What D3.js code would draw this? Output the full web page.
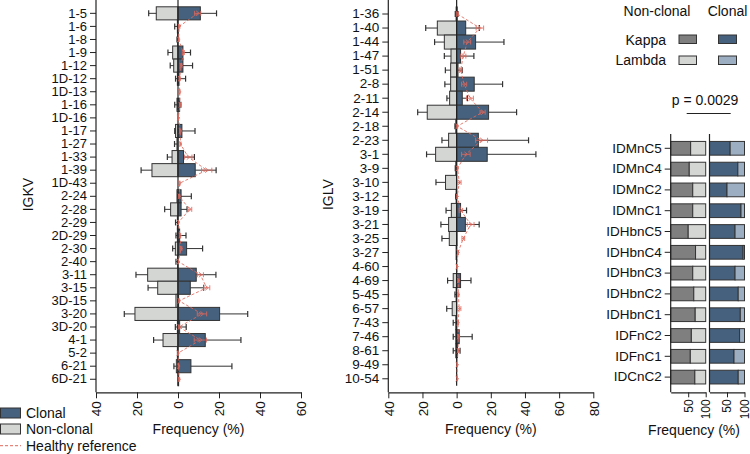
<!DOCTYPE html>
<html><head><meta charset="utf-8">
<script src="https://cdn.jsdelivr.net/npm/d3@7"></script>
<style>
body{margin:0;background:#fff;}
svg{font-family:Arial,"Liberation Sans",sans-serif;}
</style></head>
<body><svg id="c" width="750" height="454"></svg>
<script>
// ---------- IGKV ----------
const kGenes = ["1-5","1-6","1-8","1-9","1-12","1D-12","1D-13","1-16","1D-16","1-17","1-27","1-33","1-39","1D-43","2-24","2-28","2-29","2D-29","2-30","2-40","3-11","3-15","3D-15","3-20","3D-20","4-1","5-2","6-21","6D-21"];
const kClonal    = [10.9,0,0,2.4,2.4,0.5,0,0.8,0,1.9,0,2.7,8.4,0,1.5,1.5,0,0.8,4.2,0,8.9,6.0,0.3,20.3,0.8,13.3,0,6.3,0.3];
const kClonalErr = [7.9,0,0,3.7,4.7,3.2,0,0.6,0,6.4,0,5.3,10.2,0,5.0,2.9,0,3.1,7.8,0,9.6,6.5,0,13.7,3.2,17.4,0,20,0];
const kNon       = [10.6,0.3,0.2,2.6,2.1,0.3,0,0.5,0,1.2,0.5,2.9,12.7,0,0.5,3.6,0.3,0.3,1.3,0.2,14.8,9.9,1.0,21.0,0.3,7.3,0.3,0.8,0];
const kNonErr    = [3.7,1.3,0.3,2.3,1.7,0.9,0,1.1,0,0.4,1.2,2.3,5.3,0,0,2.9,0.9,0.7,1.3,0.8,5.7,4.7,0,5.2,1.0,4.6,0,1.2,0];
const kHealthy   = [9.6,0.6,0.3,2.6,1.5,0.8,0.8,1.0,0.2,1.1,1.2,5.0,14.0,0.8,0.6,5.7,0.2,1.0,1.5,0.2,10.9,14.0,0.5,11.7,0.5,10.9,0,0.3,0.5];
const kHealthyErr= [1.5,0.3,0.2,0.5,0.4,0.3,0.2,0.3,0,0.3,0.3,1.8,2.5,0.2,0.3,1.0,0,0.3,0.4,0,1.5,1.5,0.2,2.3,0.3,3.0,0,0.2,0.3];
const kTicks = [-40,-20,0,20,40,60];

// ---------- IGLV ----------
const lGenes = ["1-36","1-40","1-44","1-47","1-51","2-8","2-11","2-14","2-18","2-23","3-1","3-9","3-10","3-12","3-19","3-21","3-25","3-27","4-60","4-69","5-45","6-57","7-43","7-46","8-61","9-49","10-54"];
const lClonal    = [0.3,5.3,11.1,2.3,0.8,10.3,3.3,18.7,0,12.7,17.9,0,0,0,2.3,5.1,0.2,0,0,2.3,0,0,0,1.5,0.5,0,0];
const lClonalErr = [0.5,8,16.6,7.8,2.5,16.6,3,16.4,0,29.4,28.5,0,0,0,3.5,8.1,0,0,0,6.1,0,0,0,7.6,1.5,0,0];
const lNon       = [0.3,11.3,7.2,3.3,3.5,3.5,4.1,17.2,0.5,4.7,12.3,0.5,6.5,0.3,3.1,4.7,4.3,0.3,0,2.0,0.3,2.6,0.5,0.5,0.5,0,0];
const lNonErr    = [0.5,6.8,5.7,3.9,3.1,3.4,1.6,5.6,0.5,3.9,5.3,0.3,5.6,0.3,3.1,4.5,4.3,0,0,3.3,0.7,3.2,1.5,1.5,1.5,0,0];
const lHealthy   = [0.5,13.6,6.2,3.9,2.3,4.4,7.8,15.2,0.3,14.6,5.4,0.5,1.6,0.3,2.5,8.2,3.9,0.8,0.2,1.0,1.0,1.5,0.8,1.0,0.8,0.3,0.3];
const lHealthyErr= [0.5,2.2,2,1.5,0.8,1.5,2,1.5,0.3,3.5,2.5,0.2,1,0.2,1,2,0.8,0.3,0,0.3,0.3,1,0.3,0.3,0.3,0,0];
const lTicks = [-40,-20,0,20,40,60,80];

// ---------- Kappa / Lambda ----------
const samples = ["IDMnC5","IDMnC4","IDMnC2","IDMnC1","IDHbnC5","IDHbnC4","IDHbnC3","IDHbnC2","IDHbnC1","IDFnC2","IDFnC1","IDCnC2"];
const nonKappa = [57,53,63,63,50,71,63,66,70,59,56,69];
const clonKappa = [59,81,50,90,73,96,73,82,88,86,70,82];
const pctTicks = [50,100];

const C_CLON = "#45617e", C_CLON_L = "#9caec2", C_NON = "#d4d6d4", C_NON_D = "#7f7f7f";
const C_RED = "#e0685c", C_LINE = "#222";
const svg = d3.select("#c");

function vPanel(opts){
  const {genes, clonal, clonalErr, non, nonErr, healthy, healthyErr, ticks, xr, yr, title, titleX, fs} = opts;
  const x = d3.scaleLinear().domain([ticks[0], ticks[ticks.length-1]]).range(xr);
  const y = d3.scaleBand().domain(genes).range(yr).padding(0);
  const g = svg.append("g");
  const bh = y.bandwidth();
  const cy = d => y(d)+bh/2;
  g.selectAll(".nb").data(genes).join("rect")
    .attr("x",(d,i)=>x(-non[i])).attr("y",d=>y(d)).attr("width",(d,i)=>x(0)-x(-non[i])).attr("height",bh)
    .attr("fill",C_NON).attr("stroke","#333").attr("stroke-width",1);
  g.selectAll(".cb").data(genes).join("rect")
    .attr("x",x(0)).attr("y",d=>y(d)).attr("width",(d,i)=>x(clonal[i])-x(0)).attr("height",bh)
    .attr("fill",C_CLON).attr("stroke","#333").attr("stroke-width",1);
  const errs = [];
  genes.forEach((d,i)=>{
    if(nonErr[i]>0) errs.push({y:cy(d),a:x(-non[i]),b:x(-non[i]-nonErr[i])});
    if(clonalErr[i]>0) errs.push({y:cy(d),a:x(clonal[i]),b:x(clonal[i]+clonalErr[i])});
  });
  g.selectAll(".el").data(errs).join("line").attr("x1",d=>d.a).attr("x2",d=>d.b).attr("y1",d=>d.y).attr("y2",d=>d.y).attr("stroke","#333").attr("stroke-width",1);
  g.selectAll(".ec").data(errs).join("line").attr("x1",d=>d.b).attr("x2",d=>d.b).attr("y1",d=>d.y-3).attr("y2",d=>d.y+3).attr("stroke","#333").attr("stroke-width",1.2);
  g.append("line").attr("x1",x(0)).attr("x2",x(0)).attr("y1",0).attr("y2",yr[1]).attr("stroke",C_LINE).attr("stroke-width",1.2);
  const line = d3.line().x((d,i)=>x(healthy[i])).y(d=>cy(d));
  g.append("path").datum(genes).attr("d",line).attr("fill","none").attr("stroke",C_RED).attr("stroke-width",1).attr("stroke-dasharray","3,2").attr("opacity",0.85);
  const hg = g.selectAll(".hm").data(genes).join("g").attr("opacity",0.85);
  hg.append("line").attr("x1",(d,i)=>x(healthy[i]-healthyErr[i])).attr("x2",(d,i)=>x(healthy[i]+healthyErr[i])).attr("y1",cy).attr("y2",cy).attr("stroke",C_RED).attr("stroke-width",1);
  hg.append("line").attr("x1",(d,i)=>x(healthy[i]-healthyErr[i])).attr("x2",(d,i)=>x(healthy[i]-healthyErr[i])).attr("y1",d=>cy(d)-2.5).attr("y2",d=>cy(d)+2.5).attr("stroke",C_RED).attr("stroke-width",1);
  hg.append("line").attr("x1",(d,i)=>x(healthy[i]+healthyErr[i])).attr("x2",(d,i)=>x(healthy[i]+healthyErr[i])).attr("y1",d=>cy(d)-2.5).attr("y2",d=>cy(d)+2.5).attr("stroke",C_RED).attr("stroke-width",1);
  hg.append("path").attr("d",(d,i)=>`M${x(healthy[i])-1.5},${cy(d)-2.5}L${x(healthy[i])+1.5},${cy(d)}L${x(healthy[i])-1.5},${cy(d)+2.5}`).attr("fill","none").attr("stroke",C_RED).attr("stroke-width",1);
  const axY = 392.3;
  const ya = g.append("g").attr("transform",`translate(${xr[0]},0)`).call(d3.axisLeft(y).tickSize(6).tickSizeOuter(0));
  ya.select(".domain").remove();
  g.append("line").attr("x1",xr[0]).attr("x2",xr[0]).attr("y1",0).attr("y2",axY).attr("stroke",C_LINE).attr("stroke-width",1.2);
  ya.selectAll("text").attr("font-size",fs).attr("fill","#111").attr("font-family","Arial, Liberation Sans");
  ya.selectAll("line").attr("stroke",C_LINE);
  const xa = g.append("g").attr("transform",`translate(0,${axY})`).call(d3.axisBottom(x).tickValues(ticks).tickFormat(d=>Math.abs(d)).tickSize(6).tickSizeOuter(0));
  xa.select(".domain").attr("stroke",C_LINE).attr("stroke-width",1.2);
  xa.selectAll("line").attr("stroke",C_LINE);
  xa.selectAll("text").attr("font-size",13.5).attr("fill","#111").attr("font-family","Arial, Liberation Sans")
    .attr("transform","rotate(-90)").attr("text-anchor","end").attr("dy","0.35em").attr("x",-9).attr("y",0);
  g.append("text").attr("x",(xr[0]+xr[1])/2).attr("y",434).attr("text-anchor","middle").attr("font-size",14).attr("fill","#111").text("Frequency (%)");
  g.append("text").attr("transform",`translate(${titleX},${(yr[0]+axY)/2-5}) rotate(-90)`).attr("text-anchor","middle").attr("font-size",14).attr("fill","#111").text(title);
}

vPanel({genes:kGenes, clonal:kClonal, clonalErr:kClonalErr, non:kNon, nonErr:kNonErr, healthy:kHealthy, healthyErr:kHealthyErr, ticks:kTicks, xr:[96,301], yr:[6.8,385.8], title:"IGKV", titleX:33, fs:13});
vPanel({genes:lGenes, clonal:lClonal, clonalErr:lClonalErr, non:lNon, nonErr:lNonErr, healthy:lHealthy, healthyErr:lHealthyErr, ticks:lTicks, xr:[388.3,593.3], yr:[7,385.8], title:"IGLV", titleX:333, fs:13.5});

// ---------- bottom-left legend ----------
const lg = svg.append("g");
lg.append("rect").attr("x",0.5).attr("y",408).attr("width",20).attr("height",10).attr("fill",C_CLON).attr("stroke","#333");
lg.append("text").attr("x",26).attr("y",418).attr("font-size",14).attr("fill","#111").text("Clonal");
lg.append("rect").attr("x",0.5).attr("y",424).attr("width",20).attr("height",10).attr("fill",C_NON).attr("stroke","#333");
lg.append("text").attr("x",26).attr("y",434).attr("font-size",14).attr("fill","#111").text("Non-clonal");
lg.append("line").attr("x1",0).attr("x2",21).attr("y1",445.7).attr("y2",445.7).attr("stroke",C_RED).attr("stroke-dasharray","3,2");
lg.append("text").attr("x",26).attr("y",450.5).attr("font-size",14).attr("fill","#111").text("Healthy reference");

// ---------- right: kappa/lambda ----------
const yS = d3.scaleBand().domain(samples).range([137.9,387.5]).paddingInner(0.34).paddingOuter(0.17);
const axB = 392.3;
function klPanel(x0, kap, cDark, cLight, showY){
  const x = d3.scaleLinear().domain([0,100]).range([x0, x0+35]);
  const g = svg.append("g");
  g.selectAll(".k").data(samples).join("rect").attr("x",x(0)).attr("y",d=>yS(d)).attr("width",(d,i)=>x(kap[i])-x(0)).attr("height",yS.bandwidth()).attr("fill",cDark).attr("stroke","#333").attr("stroke-width",1);
  g.selectAll(".l").data(samples).join("rect").attr("x",(d,i)=>x(kap[i])).attr("y",d=>yS(d)).attr("width",(d,i)=>x(100)-x(kap[i])).attr("height",yS.bandwidth()).attr("fill",cLight).attr("stroke","#333").attr("stroke-width",1);
  g.append("line").attr("x1",x0).attr("x2",x0).attr("y1",134).attr("y2",axB).attr("stroke",C_LINE).attr("stroke-width",1.2);
  if(showY){
    const ya = g.append("g").attr("transform",`translate(${x0},0)`).call(d3.axisLeft(yS).tickSize(6).tickSizeOuter(0));
    ya.select(".domain").remove();
    ya.selectAll("line").attr("stroke",C_LINE);
    ya.selectAll("text").attr("font-size",13.5).attr("fill","#111").attr("font-family","Arial, Liberation Sans");
  }
  const xa = g.append("g").attr("transform",`translate(0,${axB})`).call(d3.axisBottom(x).tickValues(pctTicks).tickSize(5).tickSizeOuter(0));
  xa.select(".domain").attr("stroke",C_LINE).attr("stroke-width",1.2);
  xa.selectAll("line").attr("stroke",C_LINE);
  xa.selectAll("text").attr("font-size",12).attr("fill","#111").attr("font-family","Arial, Liberation Sans")
    .attr("transform","rotate(-90)").attr("text-anchor","end").attr("dy","0.33em").attr("x",-7).attr("y",0);
}
klPanel(670.7, nonKappa, C_NON_D, C_NON, true);
klPanel(709.5, clonKappa, C_CLON, C_CLON_L, false);
svg.append("text").attr("x",694).attr("y",435).attr("text-anchor","middle").attr("font-size",14).attr("fill","#111").text("Frequency (%)");

// legend top right
const tr = svg.append("g");
tr.append("text").attr("x",657).attr("y",16).attr("text-anchor","middle").attr("font-size",14).attr("fill","#111").text("Non-clonal");
tr.append("text").attr("x",727.5).attr("y",16).attr("text-anchor","middle").attr("font-size",14).attr("fill","#111").text("Clonal");
tr.append("text").attr("x",666).attr("y",44.5).attr("text-anchor","end").attr("font-size",14).attr("fill","#111").text("Kappa");
tr.append("text").attr("x",666).attr("y",65).attr("text-anchor","end").attr("font-size",14).attr("fill","#111").text("Lambda");
tr.append("rect").attr("x",679).attr("y",35).attr("width",17.5).attr("height",8.5).attr("fill",C_NON_D).attr("stroke","#333");
tr.append("rect").attr("x",718.5).attr("y",35).attr("width",18).attr("height",8.5).attr("fill",C_CLON).attr("stroke","#333");
tr.append("rect").attr("x",679).attr("y",56).attr("width",17.5).attr("height",8.5).attr("fill",C_NON).attr("stroke","#333");
tr.append("rect").attr("x",718.5).attr("y",56).attr("width",18).attr("height",8.5).attr("fill",C_CLON_L).attr("stroke","#333");
tr.append("text").attr("x",705).attr("y",105).attr("text-anchor","middle").attr("font-size",14).attr("fill","#111").text("p = 0.0029");
tr.append("line").attr("x1",686.7).attr("x2",730.7).attr("y1",113.5).attr("y2",113.5).attr("stroke","#222").attr("stroke-width",1);
</script></body></html>
